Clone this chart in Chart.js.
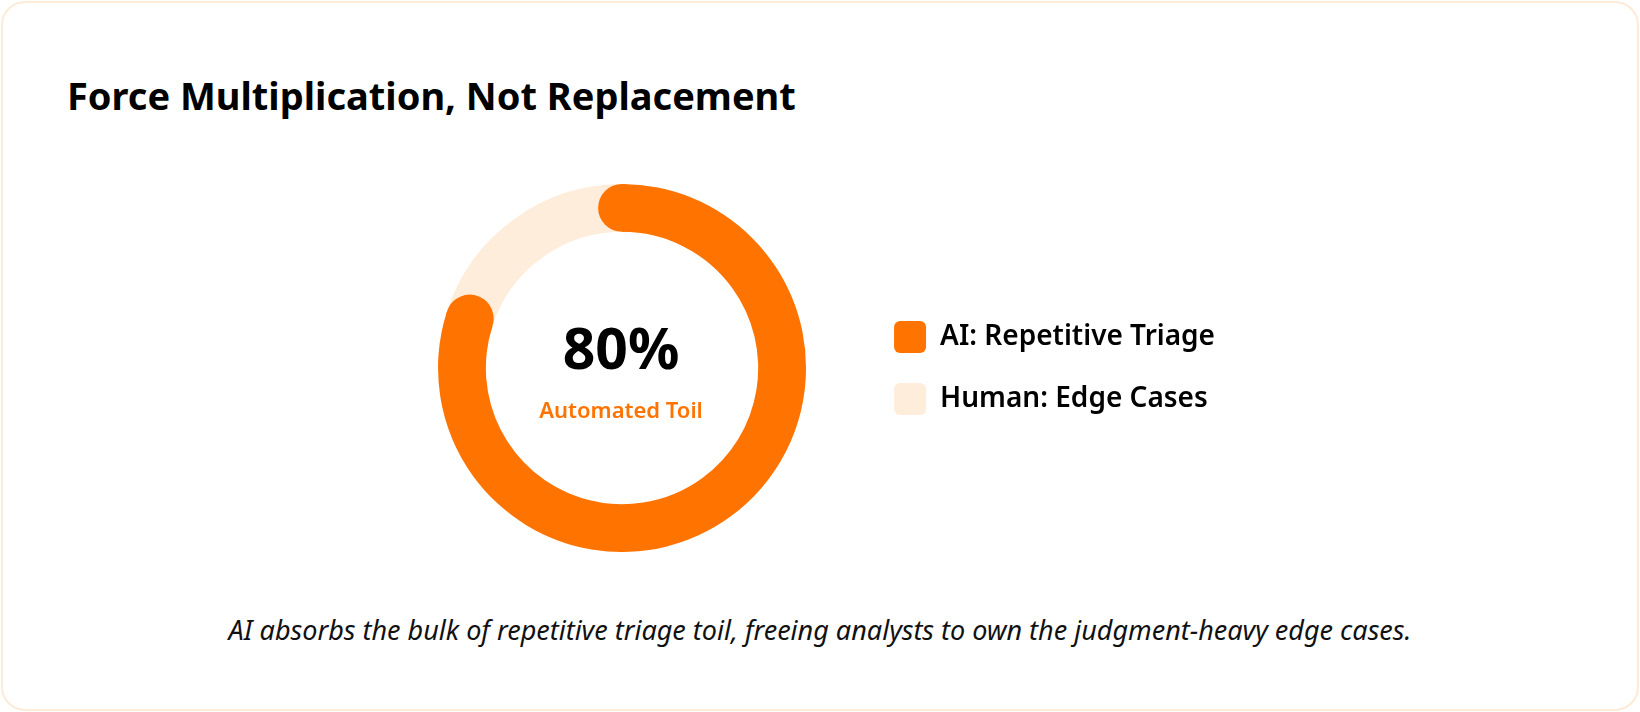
<!DOCTYPE html>
<html>
<head>
<meta charset="utf-8">
<script src="https://cdn.jsdelivr.net/npm/chart.js@4.4.1/dist/chart.umd.min.js"></script>
<style>
  html, body { margin: 0; padding: 0; background: #fff; }
  body { width: 1640px; height: 712px; position: relative; overflow: hidden; font-family: 'Noto Sans', 'Open Sans', sans-serif; }
  .card { position: absolute; left: 1px; top: 1px; width: 1634px; height: 706px; border: 2px solid #fdebd7; border-radius: 24px; }
  .title { position: absolute; left: 67px; top: 76px; font-size: 38px; line-height: 1; font-weight: 700; color: #000; white-space: nowrap; }
  .caption { position: absolute; left: 0; width: 1640px; top: 616px; text-align: center; font-size: 27px; line-height: 1; font-style: italic; color: #111; }
  #donut { position: absolute; left: 380px; top: 184px; }
</style>
</head>
<body>
<div class="card"></div>
<div class="title">Force Multiplication, Not Replacement</div>
<canvas id="donut" width="830" height="368"></canvas>
<div class="caption">AI absorbs the bulk of repetitive triage toil, freeing analysts to own the judgment-heavy edge cases.</div>
<script>
const labels = ['AI: Repetitive Triage', 'Human: Edge Cases'];
const shares = [80, 20];
const colors = ['#ff7300', '#ffeddc'];
const centerLabel = 'Automated Toil';

const legendFont = { family: "'Noto Sans', sans-serif", size: 28, weight: '600' };
const legendPad = 30;
const boxSize = 32;

// size the canvas so the legend column ends at its right edge
const measure = document.createElement('canvas').getContext('2d');
measure.font = '600 28px "Noto Sans"';
let textW = 0;
labels.forEach(l => { textW = Math.max(textW, measure.measureText(l).width) });
const legendW = legendPad + boxSize + legendFont.size / 2 + textW + 10;
const canvas = document.getElementById('donut');
canvas.width = Math.ceil(484 + legendW);

// round ends on the first slice, painted over the rest of the ring
const roundCaps = {
    id: 'roundCaps',
    afterDatasetsDraw(chart) {
        const ctx = chart.ctx;
        const arc = chart.getDatasetMeta(0).data[0];
        const { x, y, startAngle, endAngle, innerRadius, outerRadius } = arc.getProps(['x', 'y', 'startAngle', 'endAngle', 'innerRadius', 'outerRadius'], true);
        const mid = (innerRadius + outerRadius) / 2;
        const r = (outerRadius - innerRadius) / 2;
        ctx.save();
        ctx.fillStyle = arc.options.backgroundColor;
        [startAngle, endAngle].forEach(a => {
            ctx.beginPath();
            ctx.arc(x + mid * Math.cos(a), y + mid * Math.sin(a), r, 0, Math.PI * 2);
            ctx.fill();
        });
        ctx.restore();
    }
}

const centerText = {
    id: 'centerText',
    afterDraw(chart) {
        const ctx = chart.ctx;
        const arc = chart.getDatasetMeta(0).data[0];
        const total = shares.reduce((a, b) => a + b, 0);
        const pct = Math.round(shares[0] / total * 100) + '%';
        ctx.save();
        ctx.textAlign = 'center';
        ctx.textBaseline = 'alphabetic';
        ctx.fillStyle = '#000';
        ctx.font = '700 57px "Noto Sans"';
        ctx.fillText(pct, arc.x - 1, arc.y + 1);
        ctx.fillStyle = colors[0];
        ctx.font = '600 22px "Noto Sans"';
        ctx.fillText(centerLabel, arc.x - 1, arc.y + 50);
        ctx.restore();
    }
}

new Chart(canvas.getContext('2d'), {
    type: 'doughnut',
    data: {
        labels: labels,
        datasets: [{
            data: shares,
            backgroundColor: colors,
            borderWidth: 0,
            hoverOffset: 0
        }]
    },
    plugins: [roundCaps, centerText],
    options: {
        responsive: false,
        animation: false,
        cutout: '74%',
        layout: { padding: 0 },
        plugins: {
            legend: {
                position: 'right',
                labels: {
                    boxWidth: boxSize,
                    boxHeight: boxSize,
                    padding: legendPad,
                    color: '#000',
                    font: legendFont,
                    useBorderRadius: true,
                    borderRadius: 6
                }
            },
            tooltip: { enabled: false }
        }
    }
});
</script>
</body>
</html>
